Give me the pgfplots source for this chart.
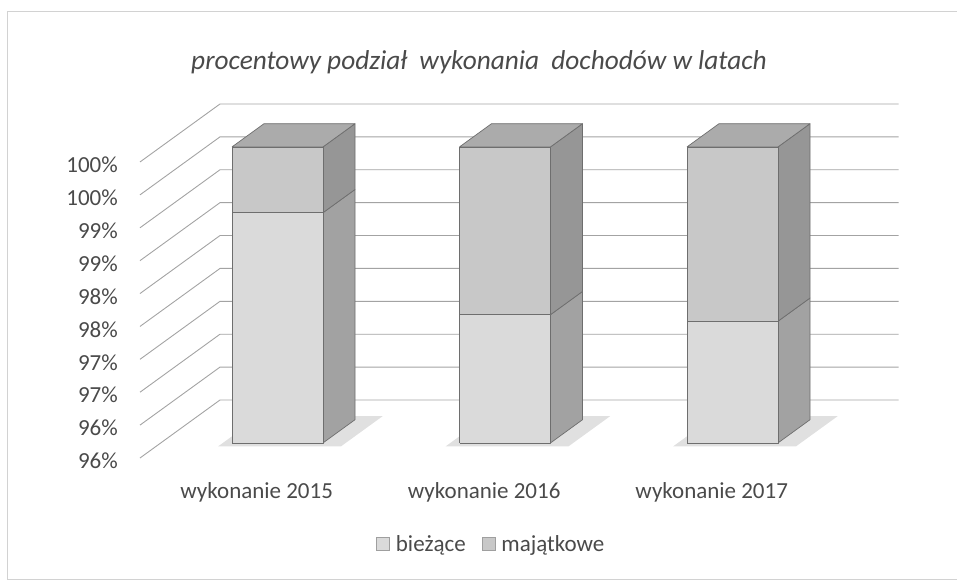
\documentclass[border=0pt]{standalone}
\usepackage{fontspec}
\setmainfont{Carlito}
\usepackage{pgfplots}
\pgfplotsset{compat=1.18}
\definecolor{txt}{HTML}{4A4A4A}
\definecolor{gridc}{HTML}{A3A3A3}
\definecolor{edge}{HTML}{6E6E6E}
\definecolor{bfront}{HTML}{DADADA}
\definecolor{bside}{HTML}{A2A2A2}
\definecolor{mfront}{HTML}{C8C8C8}
\definecolor{mside}{HTML}{969696}
\definecolor{mtop}{HTML}{ABABAB}
\definecolor{shadowc}{HTML}{E0E0E0}
\begin{document}
\begin{tikzpicture}[
  face/.style={draw=edge, line width=0.7pt, line join=round, mark=none},
  tl/.style={anchor=east, xshift=-22pt, yshift=-3pt, inner sep=0pt,
     font=\fontsize{23}{26}\selectfont, text=txt},
  cl/.style={yshift=-34pt, inner sep=0pt, font=\fontsize{23}{26}\selectfont, text=txt}]
\begin{axis}[
  x={(227.5pt,0pt)}, y={(80pt,58pt)}, z={(0pt,65.78pt)},
  xmin=-0.513, xmax=2.47, ymin=0, ymax=1, zmin=95.5, zmax=100,
  hide axis, clip=false,
  legend columns=2,
  legend style={at={(0.463,-0.243)}, anchor=center, draw=none, fill=none,
     font=\fontsize{23}{26}\selectfont, text=txt,
     /tikz/every even column/.append style={column sep=14pt},
     /tikz/every odd column/.append style={column sep=4pt}},
]
% legend
\addlegendimage{legend image code/.code={\node[draw=gray!75, fill=bfront, line width=0.7pt, minimum size=13pt, inner sep=0pt, anchor=west] at (0pt,0pt) {};}}
\addlegendentry{bieżące}
\addlegendimage{legend image code/.code={\node[draw=gray!75, fill=mfront, line width=0.7pt, minimum size=13pt, inner sep=0pt, anchor=west] at (0pt,0pt) {};}}
\addlegendentry{majątkowe}
% grid: left wall + back wall
\addplot3[gridc, line width=0.9pt, mark=none, unbounded coords=jump, forget plot] coordinates {
(-0.513,0,95.5) (-0.513,1,95.5) (2.47,1,95.5) (nan,nan,nan)
(-0.513,0,96.0) (-0.513,1,96.0) (2.47,1,96.0) (nan,nan,nan)
(-0.513,0,96.5) (-0.513,1,96.5) (2.47,1,96.5) (nan,nan,nan)
(-0.513,0,97.0) (-0.513,1,97.0) (2.47,1,97.0) (nan,nan,nan)
(-0.513,0,97.5) (-0.513,1,97.5) (2.47,1,97.5) (nan,nan,nan)
(-0.513,0,98.0) (-0.513,1,98.0) (2.47,1,98.0) (nan,nan,nan)
(-0.513,0,98.5) (-0.513,1,98.5) (2.47,1,98.5) (nan,nan,nan)
(-0.513,0,99.0) (-0.513,1,99.0) (2.47,1,99.0) (nan,nan,nan)
(-0.513,0,99.5) (-0.513,1,99.5) (2.47,1,99.5) (nan,nan,nan)
(-0.513,0,100.0) (-0.513,1,100.0) (2.47,1,100.0)
};
% floor shadows
\addplot3[fill=shadowc, draw=none, mark=none, forget plot] coordinates {(-0.24,0.2,95.5) (0.3,0.2,95.5) (0.3,0.72,95.5) (-0.24,0.72,95.5)};
\addplot3[fill=shadowc, draw=none, mark=none, forget plot] coordinates {(0.76,0.2,95.5) (1.3,0.2,95.5) (1.3,0.72,95.5) (0.76,0.72,95.5)};
\addplot3[fill=shadowc, draw=none, mark=none, forget plot] coordinates {(1.76,0.2,95.5) (2.3,0.2,95.5) (2.3,0.72,95.5) (1.76,0.72,95.5)};
% ---- wykonanie 2015: bieżące 99.0, majątkowe 1.0
\addplot3[face, fill=bside, forget plot] coordinates {(0.2,0.26,95.5) (0.2,0.66,95.5) (0.2,0.66,99.0) (0.2,0.26,99.0) (0.2,0.26,95.5)};
\addplot3[face, fill=bfront, forget plot] coordinates {(-0.2,0.26,95.5) (0.2,0.26,95.5) (0.2,0.26,99.0) (-0.2,0.26,99.0) (-0.2,0.26,95.5)};
\addplot3[face, fill=mside, forget plot] coordinates {(0.2,0.26,99.0) (0.2,0.66,99.0) (0.2,0.66,100) (0.2,0.26,100) (0.2,0.26,99.0)};
\addplot3[face, fill=mfront, forget plot] coordinates {(-0.2,0.26,99.0) (0.2,0.26,99.0) (0.2,0.26,100) (-0.2,0.26,100) (-0.2,0.26,99.0)};
\addplot3[face, fill=mtop, forget plot] coordinates {(-0.2,0.26,100) (0.2,0.26,100) (0.2,0.66,100) (-0.2,0.66,100) (-0.2,0.26,100)};
% ---- wykonanie 2016: bieżące 97.45, majątkowe 2.55
\addplot3[face, fill=bside, forget plot] coordinates {(1.2,0.26,95.5) (1.2,0.66,95.5) (1.2,0.66,97.45) (1.2,0.26,97.45) (1.2,0.26,95.5)};
\addplot3[face, fill=bfront, forget plot] coordinates {(0.8,0.26,95.5) (1.2,0.26,95.5) (1.2,0.26,97.45) (0.8,0.26,97.45) (0.8,0.26,95.5)};
\addplot3[face, fill=mside, forget plot] coordinates {(1.2,0.26,97.45) (1.2,0.66,97.45) (1.2,0.66,100) (1.2,0.26,100) (1.2,0.26,97.45)};
\addplot3[face, fill=mfront, forget plot] coordinates {(0.8,0.26,97.45) (1.2,0.26,97.45) (1.2,0.26,100) (0.8,0.26,100) (0.8,0.26,97.45)};
\addplot3[face, fill=mtop, forget plot] coordinates {(0.8,0.26,100) (1.2,0.26,100) (1.2,0.66,100) (0.8,0.66,100) (0.8,0.26,100)};
% ---- wykonanie 2017: bieżące 97.35, majątkowe 2.65
\addplot3[face, fill=bside, forget plot] coordinates {(2.2,0.26,95.5) (2.2,0.66,95.5) (2.2,0.66,97.35) (2.2,0.26,97.35) (2.2,0.26,95.5)};
\addplot3[face, fill=bfront, forget plot] coordinates {(1.8,0.26,95.5) (2.2,0.26,95.5) (2.2,0.26,97.35) (1.8,0.26,97.35) (1.8,0.26,95.5)};
\addplot3[face, fill=mside, forget plot] coordinates {(2.2,0.26,97.35) (2.2,0.66,97.35) (2.2,0.66,100) (2.2,0.26,100) (2.2,0.26,97.35)};
\addplot3[face, fill=mfront, forget plot] coordinates {(1.8,0.26,97.35) (2.2,0.26,97.35) (2.2,0.26,100) (1.8,0.26,100) (1.8,0.26,97.35)};
\addplot3[face, fill=mtop, forget plot] coordinates {(1.8,0.26,100) (2.2,0.26,100) (2.2,0.66,100) (1.8,0.66,100) (1.8,0.26,100)};
% tick labels (rounded as in the original)
\node[tl] at (axis cs:-0.513,0,100.0) {100\%};
\node[tl] at (axis cs:-0.513,0,99.5) {100\%};
\node[tl] at (axis cs:-0.513,0,99.0) {99\%};
\node[tl] at (axis cs:-0.513,0,98.5) {99\%};
\node[tl] at (axis cs:-0.513,0,98.0) {98\%};
\node[tl] at (axis cs:-0.513,0,97.5) {98\%};
\node[tl] at (axis cs:-0.513,0,97.0) {97\%};
\node[tl] at (axis cs:-0.513,0,96.5) {97\%};
\node[tl] at (axis cs:-0.513,0,96.0) {96\%};
\node[tl] at (axis cs:-0.513,0,95.5) {96\%};
% category labels
\node[cl] at (axis cs:0,0,95.5) {wykonanie 2015};
\node[cl] at (axis cs:1,0,95.5) {wykonanie 2016};
\node[cl] at (axis cs:2,0,95.5) {wykonanie 2017};
\coordinate (O) at (axis cs:0,0,95.5);
\end{axis}
\pgfresetboundingbox
\path[use as bounding box] ([shift={(-256.7pt,-122pt)}]O) rectangle ([shift={(700.3pt,458pt)}]O);
\draw[gray!35, line width=0.8pt] ([shift={(-249.7pt,-121pt)}]O) rectangle ([shift={(702pt,447pt)}]O);
\node[font=\itshape\fontsize{27.3}{31}\selectfont, text=txt] at ([shift={(222.3pt,396pt)}]O) {procentowy podział~ wykonania~ dochodów w latach};
\end{tikzpicture}
\end{document}
